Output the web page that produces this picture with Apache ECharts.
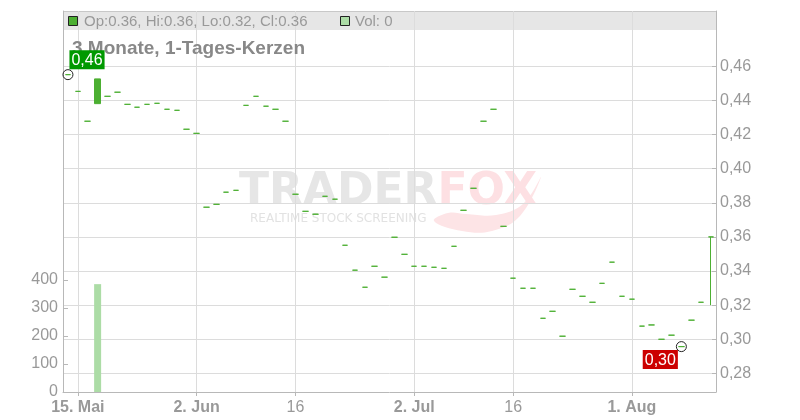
<!DOCTYPE html>
<html><head><meta charset="utf-8">
<script src="https://cdn.jsdelivr.net/npm/echarts@6/dist/echarts.min.js"></script>
<style>html,body{margin:0;padding:0;background:#fff}#c{width:800px;height:420px}</style>
</head><body><div id="c"></div>
<script>
const dates = ['2025-05-14','2025-05-15','2025-05-16','2025-05-19','2025-05-20','2025-05-21','2025-05-22','2025-05-23','2025-05-26','2025-05-27','2025-05-28','2025-05-29','2025-05-30',
'2025-06-02','2025-06-03','2025-06-04','2025-06-05','2025-06-06','2025-06-09','2025-06-10','2025-06-11','2025-06-12','2025-06-13','2025-06-16','2025-06-17','2025-06-18','2025-06-19','2025-06-20','2025-06-23','2025-06-24','2025-06-25','2025-06-26','2025-06-27','2025-06-30',
'2025-07-01','2025-07-02','2025-07-03','2025-07-04','2025-07-07','2025-07-08','2025-07-09','2025-07-10','2025-07-11','2025-07-14','2025-07-15','2025-07-16','2025-07-17','2025-07-18','2025-07-21','2025-07-22','2025-07-23','2025-07-24','2025-07-25','2025-07-28','2025-07-29','2025-07-30','2025-07-31',
'2025-08-01','2025-08-04','2025-08-05','2025-08-06','2025-08-07','2025-08-08','2025-08-11','2025-08-12','2025-08-13'];

const opens = [0.4551,0.4453,0.4278,0.4381,0.4424,0.4448,0.4377,0.4360,0.4377,0.4383,0.4348,0.4342,0.4231,0.4207,
0.3774,0.3791,0.3862,0.3873,0.4371,0.4424,0.4366,0.4348,0.4278,
0.3850,0.3750,0.3733,0.3838,0.3821,0.3551,0.3405,0.3305,0.3428,0.3364,0.3598,
0.3498,0.3428,0.3428,0.3422,0.3416,0.3545,0.3756,0.3885,0.4278,0.4348,0.3662,
0.3358,0.3299,0.3299,0.3123,0.3164,0.3018,0.3293,0.3252,0.3217,0.3328,0.3452,0.3252,
0.3235,0.3077,0.3084,0.3000,0.3024,0.2957,0.3112,0.3217,0.3600];
const closes = [0.4551,0.4453,0.4278,0.4526,0.4424,0.4448,0.4377,0.4360,0.4377,0.4383,0.4348,0.4342,0.4231,0.4207,
0.3774,0.3791,0.3862,0.3873,0.4371,0.4424,0.4366,0.4348,0.4278,
0.3850,0.3750,0.3733,0.3838,0.3821,0.3551,0.3405,0.3305,0.3428,0.3364,0.3598,
0.3498,0.3428,0.3428,0.3422,0.3416,0.3545,0.3756,0.3885,0.4278,0.4348,0.3662,
0.3358,0.3299,0.3299,0.3123,0.3164,0.3018,0.3293,0.3252,0.3217,0.3328,0.3452,0.3252,
0.3235,0.3077,0.3084,0.3000,0.3024,0.2957,0.3112,0.3217,0.3600];
const highs = [0.4551,0.4453,0.4278,0.4526,0.4424,0.4448,0.4377,0.4360,0.4377,0.4383,0.4348,0.4342,0.4231,0.4207,
0.3774,0.3791,0.3862,0.3873,0.4371,0.4424,0.4366,0.4348,0.4278,
0.3850,0.3750,0.3733,0.3838,0.3821,0.3551,0.3405,0.3305,0.3428,0.3364,0.3598,
0.3498,0.3428,0.3428,0.3422,0.3416,0.3545,0.3756,0.3885,0.4278,0.4348,0.3662,
0.3358,0.3299,0.3299,0.3123,0.3164,0.3018,0.3293,0.3252,0.3217,0.3328,0.3452,0.3252,
0.3235,0.3077,0.3084,0.3000,0.3024,0.2957,0.3112,0.3217,0.3600];
const lows = [0.4551,0.4453,0.4278,0.4381,0.4424,0.4448,0.4377,0.4360,0.4377,0.4383,0.4348,0.4342,0.4231,0.4207,
0.3774,0.3791,0.3862,0.3873,0.4371,0.4424,0.4366,0.4348,0.4278,
0.3850,0.3750,0.3733,0.3838,0.3821,0.3551,0.3405,0.3305,0.3428,0.3364,0.3598,
0.3498,0.3428,0.3428,0.3422,0.3416,0.3545,0.3756,0.3885,0.4278,0.4348,0.3662,
0.3358,0.3299,0.3299,0.3123,0.3164,0.3018,0.3293,0.3252,0.3217,0.3328,0.3452,0.3252,
0.3235,0.3077,0.3084,0.3000,0.3024,0.2957,0.3112,0.3217,0.3200];
const volumes = [0,0,0,385,0,0,0,0,0,0,0,0,0,0,0,0,0,0,0,0,0,0,0,0,0,0,0,0,0,0,0,0,0,0,
0,0,0,0,0,0,0,0,0,0,0,0,0,0,0,0,0,0,0,0,0,0,0,0,0,0,0,0,0,0,0,0];

const tickDates = ['2025-05-15','2025-06-02','2025-06-16','2025-07-02','2025-07-16','2025-08-01'];
const tickTexts = ['15. Mai','2. Jun','16','2. Jul','16','1. Aug'];
const tickBold  = [true, true, false, true, false, true];
const priceTicks = [0.28,0.30,0.32,0.34,0.36,0.38,0.40,0.42,0.44,0.46];
const volumeTicks = [0,100,200,300,400];

const FONT = '"Liberation Sans", Arial, sans-serif';
const GREEN = '#4caf32';
const tickSet = new Set(tickDates);
const showTick = (i, v) => tickSet.has(v);

const candleData = dates.map((d, i) => [opens[i], closes[i], lows[i], highs[i]]);
let iMax = 0, iMin = 0;
highs.forEach((v, i) => { if (v > highs[iMax]) iMax = i; });
lows.forEach((v, i) => { if (v < lows[iMin]) iMin = i; });
const fmt = v => v.toFixed(2).replace('.', ',');
const last = dates.length - 1;
const headerText = 'Op:' + opens[last].toFixed(2) + ', Hi:' + highs[last].toFixed(2) +
  ', Lo:' + lows[last].toFixed(2) + ', Cl:' + closes[last].toFixed(2);

const chart = echarts.init(document.getElementById('c'), null, {renderer: 'canvas'});
chart.setOption({
  animation: false,
  backgroundColor: '#fff',
  grid: {left: 63, top: 11, width: 653, height: 381, containLabel: false},
  graphic: [
    {type: 'rect', z: -10, silent: true, shape: {x: 63, y: 11, width: 653, height: 19}, style: {fill: '#e6e6e6'}},
    {type: 'line', z: -9, silent: true, shape: {x1: 63, y1: 11.5, x2: 716, y2: 11.5}, style: {stroke: '#c8c8c8', lineWidth: 1}},
    {type: 'rect', z: 5, silent: true, shape: {x: 68.5, y: 16.5, width: 9, height: 9}, style: {fill: GREEN, stroke: '#222', lineWidth: 1}},
    {type: 'text', z: 5, silent: true, x: 84, y: 21.5, style: {text: headerText, fill: '#999', font: '15px ' + FONT, verticalAlign: 'middle'}},
    {type: 'rect', z: 5, silent: true, shape: {x: 340.5, y: 16.5, width: 9, height: 9}, style: {fill: '#acdca6', stroke: '#222', lineWidth: 1}},
    {type: 'text', z: 5, silent: true, x: 355, y: 21.5, style: {text: 'Vol: ' + volumes[last], fill: '#999', font: '15px ' + FONT, verticalAlign: 'middle'}},
    {type: 'text', z: 1, silent: true, x: 72, y: 49, style: {text: '3 Monate, 1-Tages-Kerzen', fill: '#888', font: 'bold 19px ' + FONT, verticalAlign: 'middle'}},
    {type: 'polygon', z: -6, silent: true, shape: {smooth: 0.4, points: [[434,221],[462,231],[492,231],[520,216],[541,177],[523,204],[496,215],[466,214],[448,213]]}, style: {fill: '#fde4e6'}},
    {type: 'text', z: -5, silent: true, x: 239, y: 193, style: {
      text: '{a|TRADER}{b|FOX}', verticalAlign: 'middle',
      rich: {a: {fill: '#e6e6e6', font: 'bold 44px "DejaVu Sans"'}, b: {fill: '#fde0e3', font: 'bold 44px "DejaVu Sans"'}}}},
    {type: 'text', z: -5, silent: true, x: 250, y: 219, style: {text: 'REALTIME STOCK SCREENING', fill: '#e2e2e2', font: '12px "DejaVu Sans"', verticalAlign: 'middle'}}
  ],
  xAxis: {
    type: 'category', data: dates, boundaryGap: true,
    axisLine: {show: true, lineStyle: {color: '#b8b8b8'}},
    axisTick: {show: true, interval: showTick, alignWithLabel: true, length: 4, lineStyle: {color: '#b8b8b8'}},
    splitLine: {show: true, interval: showTick, alignWithLabel: true, lineStyle: {color: '#dcdcdc'}},
    axisLabel: {
      interval: showTick, margin: 8, color: '#999', fontSize: 16, fontFamily: FONT,
      formatter: v => { const k = tickDates.indexOf(v); return k < 0 ? '' : (tickBold[k] ? '{b|' + tickTexts[k] + '}' : '{n|' + tickTexts[k] + '}'); },
      rich: {b: {fontWeight: 'bold', fontSize: 16, color: '#999', fontFamily: FONT}, n: {fontSize: 16, color: '#999', fontFamily: FONT}}
    }
  },
  yAxis: [
    {
      type: 'value', position: 'right', min: 0.2691, max: 0.4924, scale: true,
      axisLine: {show: true, lineStyle: {color: '#b8b8b8'}},
      axisTick: {show: true, inside: true, length: 4, customValues: priceTicks, lineStyle: {color: '#b8b8b8'}},
      splitLine: {show: true, lineStyle: {color: '#dcdcdc'}},
      axisLabel: {customValues: priceTicks, margin: 4, color: '#999', fontSize: 16, fontFamily: FONT, formatter: v => fmt(v)}
    },
    {
      type: 'value', position: 'left', min: 0, max: 1360,
      axisLine: {show: true, lineStyle: {color: '#b8b8b8'}},
      axisTick: {show: true, inside: true, length: 5, customValues: volumeTicks, lineStyle: {color: '#b8b8b8'}},
      splitLine: {show: false},
      axisLabel: {customValues: volumeTicks, margin: 5, color: '#999', fontSize: 16, fontFamily: FONT}
    }
  ],
  series: [
    {
      type: 'bar', name: 'Vol', yAxisIndex: 1, data: volumes, barWidth: 7,
      itemStyle: {color: '#acdca6'}, z: 1, silent: true
    },
    {
      type: 'candlestick', name: 'Kurs', yAxisIndex: 0, data: candleData, barWidth: 6,
      itemStyle: {color: GREEN, color0: GREEN, borderColor: GREEN, borderColor0: GREEN, borderColorDoji: GREEN, borderWidth: 1},
      z: 3, silent: true
    },
    {
      type: 'scatter', yAxisIndex: 0, symbol: 'circle', symbolSize: 10, z: 4, silent: true,
      itemStyle: {color: 'rgba(0,0,0,0)', borderColor: '#222', borderWidth: 1, opacity: 1},
      data: [
        {value: [dates[iMax], highs[iMax]], label: {show: true, position: [7, -19], align: 'left', verticalAlign: 'top',
          formatter: p => fmt(p.value[1]), color: '#fff', fontSize: 16, fontFamily: FONT, backgroundColor: '#009900', padding: [2, 2, 1, 2]}},
        {value: [dates[iMin], lows[iMin]], label: {show: true, position: [2, 9], align: 'right', verticalAlign: 'top',
          formatter: p => fmt(p.value[1]), color: '#fff', fontSize: 16, fontFamily: FONT, backgroundColor: '#cc0000', padding: [2, 2, 1, 2]}}
      ]
    }
  ]
});
</script></body></html>
